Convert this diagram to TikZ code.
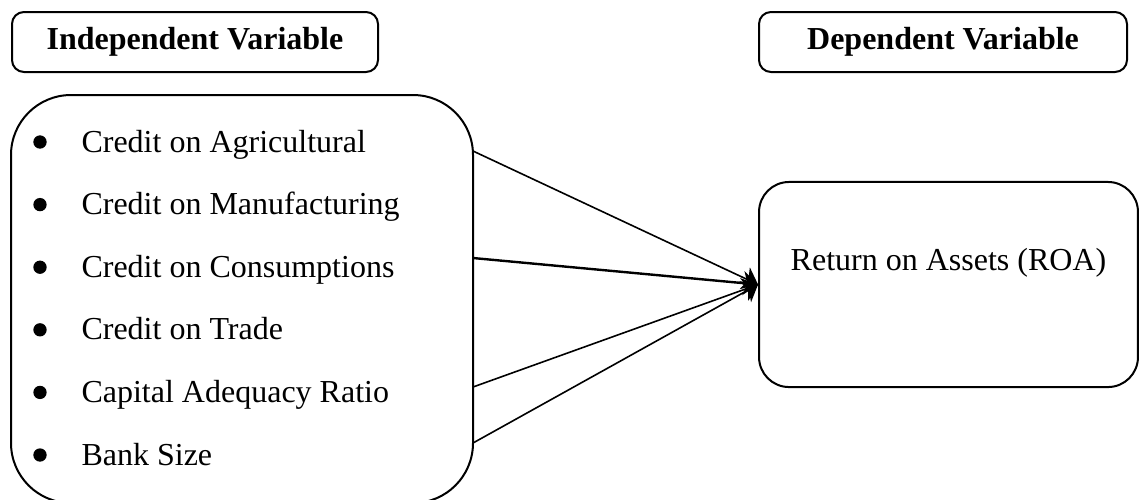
\documentclass[tikz,border=0pt]{standalone}
\usepackage{fontspec}
\setmainfont{Liberation Serif}
\usetikzlibrary{arrows.meta,positioning}

\tikzset{
  headbox/.style={draw, line width=0.75pt, rounded corners=4.5pt, minimum height=22.5pt,
    inner sep=0pt, font=\fontsize{12}{14}\selectfont\bfseries},
  bigbox/.style={draw, line width=0.75pt, inner sep=0pt},
  dot/.style={circle, fill, minimum size=5pt, inner sep=0pt},
  item/.style={anchor=base west, inner sep=0pt, font=\fontsize{12}{14}\selectfont},
  link/.style={line width=0.6pt, -{Stealth[length=5.5pt,width=9pt,inset=1.5pt]}}
}

\begin{document}
\begin{tikzpicture}[x=0.375pt, y=-0.375pt]
    \useasboundingbox (0,0) rectangle (1140,499);
    \node[headbox, minimum width=137.25pt] (indephead) at (195,42) {Independent Variable};
    \node[headbox, minimum width=138pt] (dephead) at (943,42) {Dependent Variable};
    \node[bigbox, rounded corners=22.5pt, minimum width=173.25pt, minimum height=153pt] (indep) at (242,299) {};
    \node[bigbox, rounded corners=11.25pt, minimum width=142.1pt, minimum height=76.9pt] (roa) at (948.5,284.5) {};
    \node[font=\fontsize{12}{14}\selectfont] (roatext) at ([yshift=8.25pt]roa.center) {Return on Assets (ROA)};
    \foreach \i/\txt in {1/Credit on Agricultural, 2/Credit on Manufacturing, 3/Credit on Consumptions,
        4/Credit on Trade, 5/Capital Adequacy Ratio, 6/Bank Size} {
        \node[dot] (b\i) at (40,{142+62.6*(\i-1)}) {};
        \node[item] (t\i) at (81,{152+62.6*(\i-1)}) {\txt};
    }
    \coordinate (c1) at (473,151);
    \coordinate (c2) at (473,258);
    \coordinate (c3) at (473,387);
    \coordinate (c4) at (473,443);
    \draw[link] (c1) -- (roa.west);
    \draw[link, line width=0.9pt] (c2) -- (roa.west);
    \draw[link] (c3) -- (roa.west);
    \draw[link] (c4) -- (roa.west);
\end{tikzpicture}
\end{document}
